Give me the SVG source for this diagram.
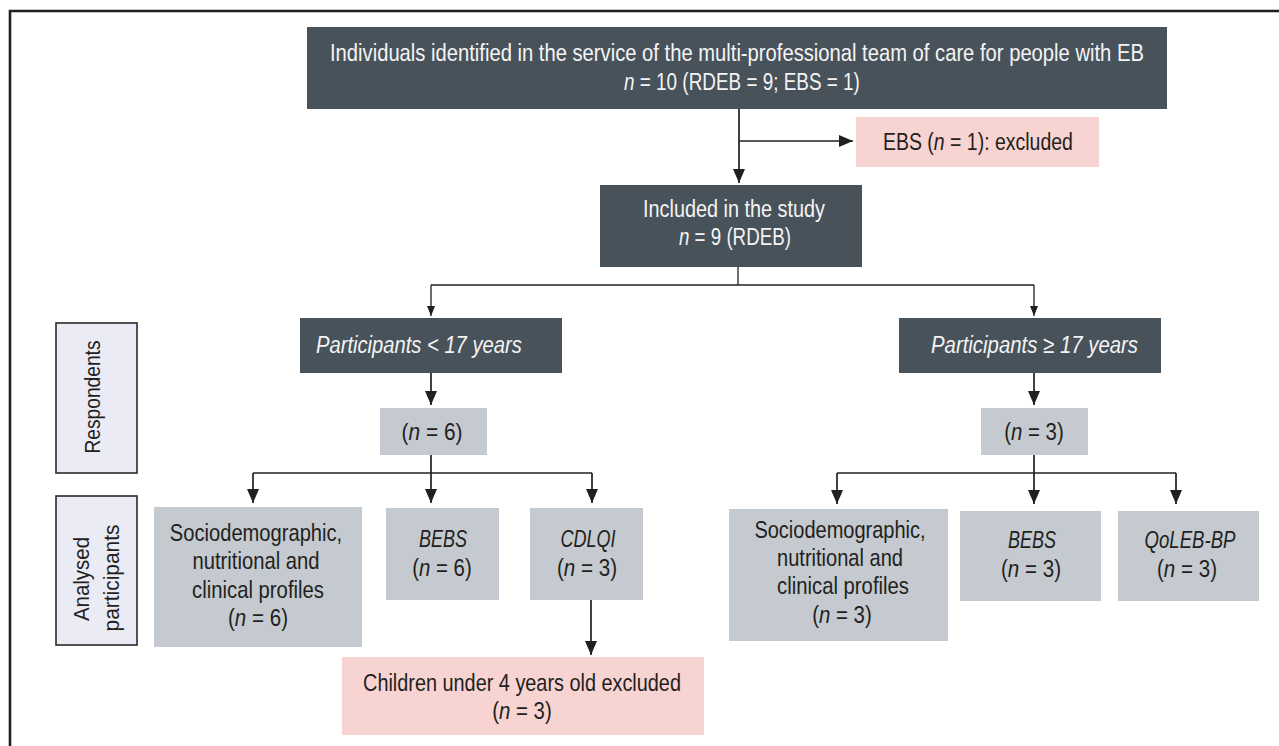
<svg xmlns="http://www.w3.org/2000/svg" width="1279" height="746" viewBox="0 0 1279 746">
<defs>
<style>
text{font-family:"Liberation Sans",Arial,sans-serif;}
.dark{fill:#48525b;}
.grey{fill:#c4cacf;}
.pink{fill:#f7d3d1;}
.lab{fill:#ebebf6;stroke:#2a2a2a;stroke-width:1.6;}
.wt{fill:#f4f4f4;font-size:24px;}
.bt{fill:#231f20;font-size:24px;text-anchor:middle;}
.pt{fill:#231f20;font-size:24px;}
.lt{fill:#231f20;font-size:22px;text-anchor:middle;}
.it{font-style:italic;}
.ln{fill:none;stroke:#231f20;stroke-width:1.7;}
.lnS{fill:none;stroke:#231f20;stroke-width:1.3;}
</style>
<marker id="arL" markerUnits="userSpaceOnUse" markerWidth="14" markerHeight="12" refX="14" refY="6" orient="auto"><path d="M0,0 L14,6 L0,12 z" fill="#231f20"/></marker>
<marker id="arS" markerUnits="userSpaceOnUse" markerWidth="10" markerHeight="8" refX="10" refY="4" orient="auto"><path d="M0,0 L10,4 L0,8 z" fill="#231f20"/></marker>
</defs>
<rect x="0" y="0" width="1279" height="746" fill="#ffffff"/>
<path d="M10,746 L10,11 L1279,11" fill="none" stroke="#231f20" stroke-width="2.6"/>

<g id="labels">
<rect class="lab" x="56" y="323" width="81" height="150"/>
<text class="lt" transform="translate(100,397) rotate(-90) scale(0.872,1)">Respondents</text>
<rect class="lab" x="56" y="496" width="81" height="149"/>
<text class="lt" transform="translate(89,579) rotate(-90) scale(0.93,1)">Analysed</text>
<text class="lt" transform="translate(119,578) rotate(-90) scale(0.95,1)">participants</text>
</g>

<g id="n-identified">
<rect class="dark" x="307" y="27" width="860" height="82"/>
<text class="wt" transform="translate(330,61) scale(0.842,1)">Individuals identified in the service of the multi-professional team of care for people with EB</text>
<text class="wt" transform="translate(624,90) scale(0.788,1)"><tspan class="it">n</tspan> = 10 (RDEB = 9; EBS = 1)</text>
</g>

<g id="n-ebs">
<rect class="pink" x="856" y="117" width="243" height="50"/>
<text class="pt" transform="translate(883,150) scale(0.8116,1)">EBS (<tspan class="it">n</tspan> = 1): excluded</text>
</g>

<g id="n-included">
<rect class="dark" x="600" y="185" width="262" height="82"/>
<text class="wt" transform="translate(643,217) scale(0.827,1)">Included in the study</text>
<text class="wt" transform="translate(679,245) scale(0.781,1)"><tspan class="it">n</tspan> = 9 (RDEB)</text>
</g>

<g id="n-under17">
<rect class="dark" x="300" y="318" width="262" height="55"/>
<text class="wt it" transform="translate(316,353) scale(0.8415,1)">Participants &lt; 17 years</text>
</g>

<g id="n-over17">
<rect class="dark" x="899" y="318" width="262" height="55"/>
<text class="wt it" transform="translate(931,353) scale(0.849,1)">Participants ≥ 17 years</text>
</g>

<g id="n-resp6">
<rect class="grey" x="380" y="408" width="107" height="47"/>
<text class="bt" transform="translate(432,440) scale(0.87,1)">(<tspan class="it">n</tspan> = 6)</text>
</g>

<g id="n-resp3">
<rect class="grey" x="981" y="408" width="107" height="47"/>
<text class="bt" transform="translate(1034,440) scale(0.85,1)">(<tspan class="it">n</tspan> = 3)</text>
</g>

<g id="n-socio-left">
<rect class="grey" x="154" y="507" width="208" height="140"/>
<text class="bt" transform="translate(256,541) scale(0.839,1)">Sociodemographic,</text>
<text class="bt" transform="translate(256,569) scale(0.843,1)">nutritional and</text>
<text class="bt" transform="translate(258,598) scale(0.846,1)">clinical profiles</text>
<text class="bt" transform="translate(258,626) scale(0.857,1)">(<tspan class="it">n</tspan> = 6)</text>
</g>

<g id="n-bebs-left">
<rect class="grey" x="386" y="508" width="113" height="92"/>
<text class="bt it" transform="translate(443,547) scale(0.75,1)">BEBS</text>
<text class="bt" transform="translate(442,576) scale(0.85,1)">(<tspan class="it">n</tspan> = 6)</text>
</g>

<g id="n-cdlqi">
<rect class="grey" x="530" y="508" width="113" height="92"/>
<text class="bt it" transform="translate(588,547) scale(0.75,1)">CDLQI</text>
<text class="bt" transform="translate(587,576) scale(0.86,1)">(<tspan class="it">n</tspan> = 3)</text>
</g>

<g id="n-children">
<rect class="pink" x="342" y="657" width="362" height="78"/>
<text class="bt" transform="translate(522,691) scale(0.828,1)">Children under 4 years old excluded</text>
<text class="bt" transform="translate(522,719) scale(0.85,1)">(<tspan class="it">n</tspan> = 3)</text>
</g>

<g id="n-socio-right">
<rect class="grey" x="729" y="509" width="219" height="132"/>
<text class="bt" transform="translate(840,538) scale(0.834,1)">Sociodemographic,</text>
<text class="bt" transform="translate(840,566) scale(0.836,1)">nutritional and</text>
<text class="bt" transform="translate(843,594) scale(0.846,1)">clinical profiles</text>
<text class="bt" transform="translate(842,623) scale(0.85,1)">(<tspan class="it">n</tspan> = 3)</text>
</g>

<g id="n-bebs-right">
<rect class="grey" x="960" y="511" width="141" height="90"/>
<text class="bt it" transform="translate(1032,548) scale(0.75,1)">BEBS</text>
<text class="bt" transform="translate(1031,577) scale(0.857,1)">(<tspan class="it">n</tspan> = 3)</text>
</g>

<g id="n-qoleb">
<rect class="grey" x="1118" y="511" width="141" height="90"/>
<text class="bt it" transform="translate(1190,548) scale(0.775,1)">QoLEB-BP</text>
<text class="bt" transform="translate(1187,577) scale(0.857,1)">(<tspan class="it">n</tspan> = 3)</text>
</g>

<g id="connectors">
<path class="ln" d="M739,109 L739,183" marker-end="url(#arL)"/>
<path class="ln" d="M739,141 L853,141" marker-end="url(#arL)"/>
<path class="lnS" d="M738,267 L738,285"/>
<path class="lnS" d="M431,285 L1034,285"/>
<path class="lnS" d="M431,285 L431,316" marker-end="url(#arS)"/>
<path class="lnS" d="M1034,285 L1034,316" marker-end="url(#arS)"/>
<path class="ln" d="M431,373 L431,405" marker-end="url(#arL)"/>
<path class="ln" d="M1034,373 L1034,405" marker-end="url(#arL)"/>
<path class="ln" d="M431,455 L431,473"/>
<path class="ln" d="M253,473 L592,473"/>
<path class="ln" d="M253,473 L253,503" marker-end="url(#arL)"/>
<path class="ln" d="M431,473 L431,503" marker-end="url(#arL)"/>
<path class="ln" d="M592,473 L592,503" marker-end="url(#arL)"/>
<path class="ln" d="M1034,455 L1034,473"/>
<path class="ln" d="M837,473 L1176,473"/>
<path class="ln" d="M837,473 L837,504" marker-end="url(#arL)"/>
<path class="ln" d="M1034,473 L1034,504" marker-end="url(#arL)"/>
<path class="ln" d="M1176,473 L1176,504" marker-end="url(#arL)"/>
<path class="ln" d="M591,600 L591,655" marker-end="url(#arL)"/>
</g>
</svg>
